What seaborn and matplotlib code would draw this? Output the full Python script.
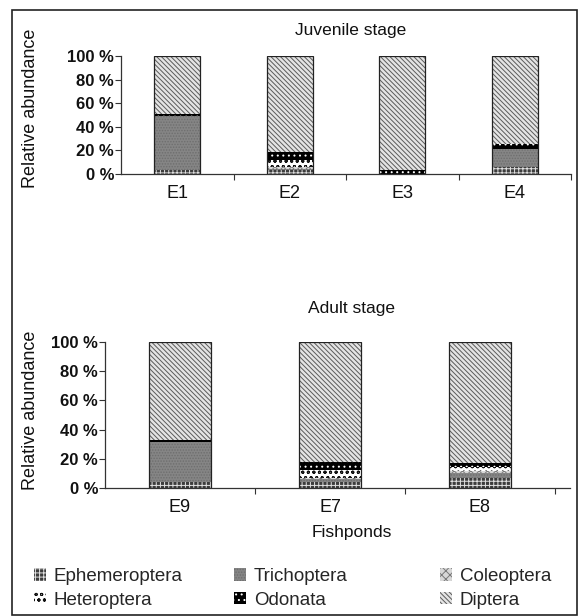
import numpy as np
import pandas as pd
import matplotlib
matplotlib.use("Agg")
import matplotlib.pyplot as plt
import seaborn as sns
from matplotlib.patches import Patch, Rectangle

# ---------------- data ----------------
taxa = ["Ephemeroptera", "Trichoptera", "Coleoptera", "Heteroptera", "Odonata", "Diptera"]

juv_ponds = ["E1", "E2", "E3", "E4"]
juv_ephemeroptera = [3.6, 3.0, 0.0, 5.6]
juv_trichoptera = [45.4, 1.5, 0.0, 15.7]
juv_coleoptera = [0.0, 1.5, 0.0, 0.0]
juv_heteroptera = [0.0, 5.5, 0.0, 0.0]
juv_odonata = [1.8, 7.5, 3.5, 4.0]
juv_diptera = [49.2, 81.0, 96.5, 74.7]

adult_ponds = ["E9", "E7", "E8"]
adult_ephemeroptera = [3.8, 4.0, 7.0]
adult_trichoptera = [27.4, 2.0, 3.0]
adult_coleoptera = [0.0, 1.0, 1.5]
adult_heteroptera = [0.0, 5.0, 3.0]
adult_odonata = [1.8, 5.5, 2.5]
adult_diptera = [67.0, 82.5, 83.0]

ytick_vals = [0, 20, 40, 60, 80, 100]
ytick_labels = ["0 %", "20 %", "40 %", "60 %", "80 %", "100 %"]

# ---------------- style ----------------
sns.set_style("white")
plt.rcParams["font.family"] = ["Liberation Sans", "DejaVu Sans"]
plt.rcParams["hatch.linewidth"] = 0.7

styles = {
    "Ephemeroptera": dict(face="#3c3c3c", hatch="++++", hc="#e0e0e0"),
    "Trichoptera": dict(face="#858585", hatch="......", hc="#6e6e6e"),
    "Coleoptera": dict(face="#d8d8d8", hatch="xxxx", hc="#7a7a7a"),
    "Heteroptera": dict(face="#ffffff", hatch="ooo", hc="#111111"),
    "Odonata": dict(face="#000000", hatch="...", hc="#ffffff"),
    "Diptera": dict(face="#e4e4e4", hatch="\\" * 7, hc="#5a5a5a"),
}

W, H = 580, 616
fig = plt.figure(figsize=(W / 100, H / 100), dpi=100)


def ax_rect(left, right, top, bottom):
    return [left / W, 1 - bottom / H, (right - left) / W, (bottom - top) / H]


def draw(ax, ponds, layers, xmax):
    cum = np.cumsum(np.array(layers, dtype=float), axis=0)
    for i in range(len(taxa) - 1, -1, -1):
        st = styles[taxa[i]]
        df = pd.DataFrame({"pond": ponds, "value": cum[i]})
        sns.barplot(data=df, x="pond", y="value", order=ponds, color=st["face"],
                    saturation=1, width=0.41, errorbar=None, ax=ax,
                    edgecolor=st["hc"], linewidth=0, hatch=st["hatch"])
    df = pd.DataFrame({"pond": ponds, "value": cum[-1]})
    sns.barplot(data=df, x="pond", y="value", order=ponds, color="#222222",
                fill=False, width=0.41, errorbar=None, ax=ax, linewidth=0.9)
    ax.set_xlim(-0.5, xmax)
    ax.set_ylim(0, 100)
    ax.set_xlabel("")
    ax.set_ylabel("")
    for s in ["top", "right"]:
        ax.spines[s].set_visible(False)
    for s in ["left", "bottom"]:
        ax.spines[s].set_color("#333333")
        ax.spines[s].set_linewidth(0.9)
    ax.set_yticks(ytick_vals)
    ax.set_yticklabels(ytick_labels, fontsize=12, fontweight="bold", color="#111111")
    ax.tick_params(axis="y", direction="out", length=4, width=0.8, pad=1, left=True, color="#333333")
    ax.tick_params(axis="x", which="major", length=0, pad=8, labelsize=13, labelcolor="#111111")
    n = len(ponds)
    ax.set_xticks([k + 0.5 for k in range(n)], minor=True)
    ax.tick_params(axis="x", which="minor", direction="out", length=4, width=0.8, bottom=True, color="#333333")
    ax.set_facecolor("none")


ax1 = fig.add_axes(ax_rect(121, 571, 56, 174))
draw(ax1, juv_ponds,
     [juv_ephemeroptera, juv_trichoptera, juv_coleoptera, juv_heteroptera, juv_odonata, juv_diptera],
     3.5)

ax2 = fig.add_axes(ax_rect(105, 570, 342, 488))
draw(ax2, adult_ponds,
     [adult_ephemeroptera, adult_trichoptera, adult_coleoptera, adult_heteroptera, adult_odonata, adult_diptera],
     2.6)

# titles and labels
fig.text(351 / W, 1 - 30 / H, "Juvenile stage", ha="center", va="center", fontsize=12.5, color="#111111")
fig.text(351 / W, 1 - 308 / H, "Adult stage", ha="center", va="center", fontsize=12.5, color="#111111")
fig.text(352 / W, 1 - 532 / H, "Fishponds", ha="center", va="center", fontsize=12.5, color="#111111")
fig.text(31 / W, 1 - 108 / H, "Relative abundance", rotation=90, ha="center", va="center",
         fontsize=13, color="#111111")
fig.text(31 / W, 1 - 410 / H, "Relative abundance", rotation=90, ha="center", va="center",
         fontsize=13, color="#111111")


# legend (three columns, row-major order)
def handle(name):
    st = styles[name]
    return Patch(facecolor=st["face"], hatch=st["hatch"], edgecolor=st["hc"], linewidth=0)


cols = [(["Ephemeroptera", "Heteroptera"], 34), (["Trichoptera", "Odonata"], 234),
        (["Coleoptera", "Diptera"], 440)]
for names, x in cols:
    fig.legend([handle(n) for n in names], names, loc="upper left",
               bbox_to_anchor=(x / W, 1 - 568 / H), frameon=False, fontsize=13.5,
               handlelength=0.65, handleheight=0.65, handletextpad=0.4, labelspacing=0.35,
               borderpad=0, borderaxespad=0)

fig.add_artist(Rectangle((12 / W, 1 / H), (577 - 12) / W, (615 - 10) / H, fill=False,
                         edgecolor="#222222", linewidth=1.2, transform=fig.transFigure))

fig.savefig("out.png", dpi=100)
